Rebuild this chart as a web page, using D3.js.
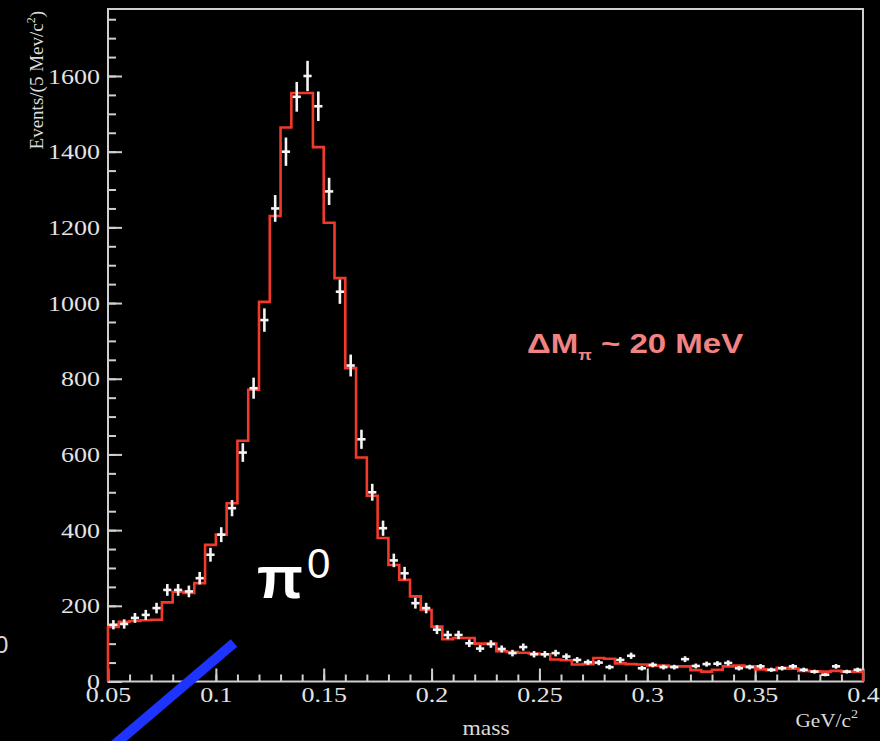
<!DOCTYPE html>
<html>
<head>
<meta charset="utf-8">
<style>

html, body {
  margin: 0px;
  padding: 0px;
  border: 0px;
  background: #000;
}

svg {
  display: block;
}

.axis text {
  font-family: "Liberation Serif", "Times New Roman", serif;
  font-size: 22px;
  fill: #e4e4e4;
}

.axis line {
  stroke: #cfcfcf;
  stroke-width: 2px;
}

</style>
</head>
<body>
<div id="chart"></div>
<script src="https://cdn.jsdelivr.net/npm/d3@7/dist/d3.min.js"></script>
<script>
  // 5 MeV bins from 0.05 to 0.40 GeV/c^2
  var binStart = 0.05;
  var binWidth = 0.005;

  // red curve (fit), events per bin
  var fitCounts = [
    144, 158, 160, 162, 163, 209, 237, 234, 260, 361,
    388, 471, 636, 771, 1003, 1230, 1464, 1555, 1555, 1412,
    1212, 1066, 828, 592, 491, 379, 308, 269, 225, 189,
    145, 112, 115, 115, 100, 100, 80, 78, 76, 74,
    72, 58, 56, 45, 46, 62, 60, 48, 46, 45,
    42, 42, 40, 40, 30, 26, 31, 40, 42, 40,
    32, 30, 36, 34, 28, 27, 26, 28, 26, 26
  ];

  // white crosses (data), events per bin
  var dataCounts = [
    150, 152, 168, 176, 194, 242, 242, 238, 273, 335,
    388, 458, 605, 775, 955, 1250, 1400, 1545, 1600, 1520,
    1295, 1030, 835, 640, 500, 405, 320, 286, 207, 194,
    137, 123, 123, 101, 87, 99, 86, 75, 91, 72,
    72, 75, 66, 57, 51, 50, 38, 57, 68, 35,
    44, 38, 38, 59, 41, 46, 47, 49, 35, 38,
    40, 31, 35, 40, 31, 26, 18, 40, 26, 31
  ];

  var yTicks = [0, 200, 400, 600, 800, 1000, 1200, 1400, 1600];
  var xTicks = [0.05, 0.1, 0.15, 0.2, 0.25, 0.3, 0.35, 0.4];
  var xTickLabels = ["0.05", "0.1", "0.15", "0.2", "0.25", "0.3", "0.35", "0.4"];

  var W = 880, H = 741;
  var padL = 108, padR = 863, padT = 9, padB = 681.5;
  var sx = 1.18; // the old plot is a bit wider than tall

  var x = d3.scaleLinear().domain([0.05, 0.4]).range([padL, padR]);
  var y = d3.scaleLinear().domain([0, 1777]).range([padB, padT]);

  var svg = d3.select("#chart").append("svg")
    .attr("width", W)
    .attr("height", H)
    .style("background", "#000");

  // stretch text sideways around its own anchor
  function stretch(sel, k) {
    sel.each(function () {
      var t = d3.select(this);
      var tx = +t.attr("x") || 0, ty = +t.attr("y") || 0;
      t.attr("x", 0).attr("y", 0)
        .attr("transform", "translate(" + tx + "," + ty + ") scale(" + k + ",1)");
    });
  }

  // minor ticks first, majors on top
  svg.append("g")
    .attr("class", "axis")
    .attr("transform", "translate(" + padL + ",0)")
    .call(d3.axisLeft(y).tickValues(d3.range(0, 1751, 50)).tickSizeInner(-8).tickSizeOuter(0).tickFormat(""))
    .call(function (g) { g.select(".domain").remove(); });

  var yAxis = svg.append("g")
    .attr("class", "axis")
    .attr("transform", "translate(" + padL + ",0)")
    .call(d3.axisLeft(y).tickValues(yTicks).tickSizeInner(-14).tickSizeOuter(0).tickPadding(8)
      .tickFormat(d3.format("d")))
    .call(function (g) { g.select(".domain").remove(); });
  yAxis.selectAll("text").call(stretch, sx);

  svg.append("g")
    .attr("class", "axis")
    .attr("transform", "translate(0," + padB + ")")
    .call(d3.axisBottom(x).tickValues(d3.range(0.06, 0.395, 0.01)).tickSizeInner(-7).tickSizeOuter(0).tickFormat(""))
    .call(function (g) { g.select(".domain").remove(); });

  var xAxis = svg.append("g")
    .attr("class", "axis")
    .attr("transform", "translate(0," + padB + ")")
    .call(d3.axisBottom(x).tickValues(xTicks).tickSizeInner(-13).tickSizeOuter(0).tickPadding(5)
      .tickFormat(function (d, i) { return xTickLabels[i]; }))
    .call(function (g) { g.select(".domain").remove(); });
  xAxis.selectAll("text").call(stretch, sx);

  // frame
  svg.append("rect")
    .attr("x", padL)
    .attr("y", padT)
    .attr("width", padR - padL)
    .attr("height", padB - padT)
    .attr("fill", "none")
    .attr("stroke", "#cfcfcf")
    .attr("stroke-width", 2);

  // fit histogram as a step line
  var steps = [[binStart, 0]];
  fitCounts.forEach(function (v, i) { steps.push([binStart + i * binWidth, v]); });
  steps.push([binStart + fitCounts.length * binWidth, fitCounts[fitCounts.length - 1]]);
  steps.push([binStart + fitCounts.length * binWidth, 0]);

  svg.append("path")
    .datum(steps)
    .attr("fill", "none")
    .attr("stroke", "#f2392b")
    .attr("stroke-width", 2.6)
    .attr("d", d3.line()
      .x(function (d) { return x(d[0]); })
      .y(function (d) { return y(d[1]); })
      .curve(d3.curveStepAfter));

  // data crosses, sqrt(N) error bars
  var pts = svg.append("g")
    .attr("stroke", "#f4f4f4")
    .attr("stroke-width", 2.6)
    .selectAll("g")
    .data(dataCounts)
    .enter()
    .append("g");

  pts.append("line")
    .attr("x1", function (d, i) { return x(binStart + (i + 0.5) * binWidth); })
    .attr("x2", function (d, i) { return x(binStart + (i + 0.5) * binWidth); })
    .attr("y1", function (d) { return y(d + Math.sqrt(d)); })
    .attr("y2", function (d) { return y(d - Math.sqrt(d)); });

  pts.append("line")
    .attr("x1", function (d, i) { return x(binStart + (i + 0.12) * binWidth); })
    .attr("x2", function (d, i) { return x(binStart + (i + 0.88) * binWidth); })
    .attr("y1", function (d) { return y(d); })
    .attr("y2", function (d) { return y(d); });

  // axis titles
  var yTitle = svg.append("text")
    .attr("transform", "translate(43," + (padT + 2) + ") rotate(-90)")
    .attr("text-anchor", "end")
    .attr("font-family", "Liberation Serif, serif")
    .attr("font-size", 19)
    .attr("fill", "#dcdcdc");
  yTitle.append("tspan").text("Events/(5 Mev/c");
  yTitle.append("tspan").attr("font-size", 12).attr("dy", -8).text("2");
  yTitle.append("tspan").attr("dy", 8).text(")");

  svg.append("text")
    .attr("x", 486)
    .attr("y", 735)
    .attr("text-anchor", "middle")
    .attr("font-family", "Liberation Serif, serif")
    .attr("font-size", 20)
    .attr("fill", "#dcdcdc")
    .text("mass")
    .call(stretch, sx);

  var unit = svg.append("text")
    .attr("x", 858)
    .attr("y", 727)
    .attr("text-anchor", "end")
    .attr("font-family", "Liberation Serif, serif")
    .attr("font-size", 18)
    .attr("fill", "#dcdcdc");
  unit.append("tspan").text("GeV/c");
  unit.append("tspan").attr("font-size", 12).attr("dy", -9).text("2");
  unit.call(stretch, sx);

  // resolution note
  var note = svg.append("text")
    .attr("x", 527)
    .attr("y", 353)
    .attr("font-family", "Liberation Sans, Arial, sans-serif")
    .attr("font-weight", "bold")
    .attr("font-size", 28)
    .attr("fill", "#f28383");
  note.append("tspan").text("\u0394M");
  note.append("tspan").attr("font-size", 15).attr("dy", 7).text("\u03c0");
  note.append("tspan").attr("dy", -7).text(" ~ 20 MeV");
  note.call(stretch, sx);

  // slide overlay: label and pointer
  var pi0 = svg.append("text")
    .attr("x", 257)
    .attr("y", 598)
    .attr("font-family", "Liberation Sans, Arial, sans-serif")
    .attr("font-size", 60)
    .attr("fill", "#fff");
  pi0.append("tspan").attr("font-weight", "bold").text("\u03c0");
  pi0.append("tspan").attr("font-size", 42).attr("dy", -20).attr("dx", 4).text("0");

  svg.append("line")
    .attr("x1", 234)
    .attr("y1", 643)
    .attr("x2", 100)
    .attr("y2", 757)
    .attr("stroke", "#1f33ff")
    .attr("stroke-width", 10);

  svg.append("text")
    .attr("x", -5)
    .attr("y", 653)
    .attr("font-family", "Liberation Sans, Arial, sans-serif")
    .attr("font-size", 24)
    .attr("fill", "#d8d8d8")
    .text("0");
</script>
</body>
</html>
